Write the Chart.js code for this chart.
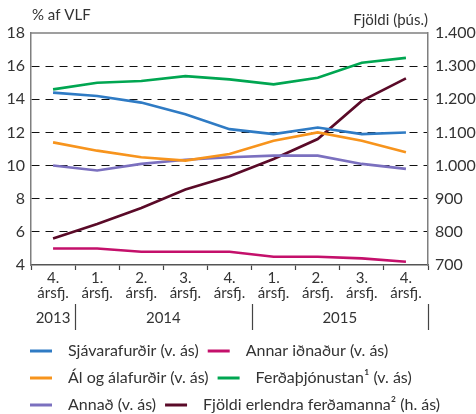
<!DOCTYPE html>
<html>
<head>
<meta charset="utf-8">
<script src="https://cdn.jsdelivr.net/npm/chart.js@4.4.1/dist/chart.umd.min.js"></script>
<style>
html,body{margin:0;padding:0;background:#fff;}
canvas{display:block;}
</style>
</head>
<body>
<canvas id="c" width="476" height="414"></canvas>
<script>
// ---- data ----
const quarterLabels = ["4.","1.","2.","3.","4.","1.","2.","3.","4."];
const quarterSuffix = "ársfj.";
const yearLabels = ["2013","2014","2015"];
const yearSpans = [1,4,4];
const leftTicks = [4,6,8,10,12,14,16,18];
const rightTicks = [700,800,900,1000,1100,1200,1300,1400];

const seriesNames = [
  "Sjávarafurðir (v. ás)",
  "Annar iðnaður (v. ás)",
  "Ál og álafurðir (v. ás)",
  "Ferðaþjónustan¹ (v. ás)",
  "Annað (v. ás)",
  "Fjöldi erlendra ferðamanna² (h. ás)"
];
const sjavarafurdir = [14.4,14.2,13.8,13.1,12.2,11.9,12.3,11.9,12.0];
const annarIdnadur  = [5.0,5.0,4.8,4.8,4.8,4.5,4.5,4.4,4.2];
const alOgAlafurdir = [11.4,10.9,10.5,10.3,10.7,11.5,12.0,11.5,10.8];
const ferdathjonusta= [14.6,15.0,15.1,15.4,15.2,14.9,15.3,16.2,16.5];
const annad         = [10.0,9.7,10.1,10.35,10.5,10.6,10.6,10.1,9.8];
const fjoldi        = [780,824,872,928,968,1020,1080,1195,1263];

const colors = ["#2f7bc4","#c4106b","#f7941d","#00a651","#7b70bf","#5a0a28"];
const seriesData = [sjavarafurdir,annarIdnadur,alOgAlafurdir,ferdathjonusta,annad,fjoldi];
const seriesAxis = ["y","y","y","y","y","y2"];

const FONT = "Lato, 'Noto Sans', sans-serif";
const TXT = "#333";
const FRAME = "#7f7f7f";

const categories = quarterLabels.map(q => [q, quarterSuffix]);

const datasets = seriesData.map((d,i) => ({
  label: seriesNames[i],
  data: d,
  yAxisID: seriesAxis[i],
  borderColor: colors[i],
  backgroundColor: colors[i],
  borderWidth: 2.6,
  pointRadius: 0,
  tension: 0,
  fill: false
}));

const fmt = v => v >= 1000 ? Math.floor(v/1000) + "." + String(v%1000).padStart(3,"0") : String(v);

const decor = {
  id: "decor",
  afterDraw(chart) {
    const ctx = chart.ctx;
    const a = chart.chartArea;
    const xs = chart.scales.x;
    ctx.save();
    // top frame
    ctx.strokeStyle = FRAME; ctx.lineWidth = 1.5;
    ctx.beginPath(); ctx.moveTo(a.left, a.top); ctx.lineTo(a.right, a.top); ctx.stroke();
    // axis titles
    ctx.fillStyle = TXT;
    ctx.font = "15px " + FONT;
    ctx.textBaseline = "middle";
    ctx.textAlign = "left";
    ctx.fillText("% af VLF", a.left + 1, 15);
    ctx.textAlign = "right";
    ctx.fillText("Fjöldi (þús.)", a.right, 20);
    // year row
    const half = (xs.getPixelForValue(1) - xs.getPixelForValue(0)) / 2;
    let idx = 0;
    ctx.strokeStyle = "#444"; ctx.lineWidth = 1.2;
    ctx.textAlign = "center";
    yearLabels.forEach((lab, g) => {
      const first = idx, last = idx + yearSpans[g] - 1;
      const x0 = xs.getPixelForValue(first) - half;
      const x1 = xs.getPixelForValue(last) + half;
      ctx.fillText(lab, (x0 + x1) / 2, 318);
      ctx.beginPath(); ctx.moveTo(Math.round(x1)+0.5, 304); ctx.lineTo(Math.round(x1)+0.5, 330); ctx.stroke();
      idx += yearSpans[g];
    });
    // legend
    const rows = [[0,1],[2,3],[4,5]];
    const rowY = [351, 378, 405];
    ctx.font = "16px " + FONT;
    ctx.textAlign = "left";
    rows.forEach((r, ri) => {
      let x = 30;
      r.forEach(si => {
        ctx.strokeStyle = colors[si]; ctx.lineWidth = 3;
        ctx.beginPath(); ctx.moveTo(x, rowY[ri]); ctx.lineTo(x + 22, rowY[ri]); ctx.stroke();
        x += 22 + 16;
        ctx.fillStyle = TXT;
        ctx.fillText(seriesNames[si], x, rowY[ri]);
        x += ctx.measureText(seriesNames[si]).width + 9;
      });
    });
    ctx.restore();
  }
};

new Chart(document.getElementById("c"), {
  type: "line",
  data: { labels: categories, datasets },
  options: {
    responsive: false,
    animation: false,
    devicePixelRatio: 1,
    layout: { padding: { top: 33, left: 0, right: 0, bottom: 0 } },
    plugins: { legend: { display: false }, tooltip: { enabled: false } },
    scales: {
      x: {
        offset: true,
        grid: { offset: true, drawOnChartArea: false, drawTicks: true, tickLength: 5, tickColor: "#444", tickWidth: 1.2 },
        border: { display: true, color: "#555", width: 1.5 },
        ticks: { color: TXT, font: { family: FONT, size: 15, lineHeight: 0.97 }, padding: 1, maxRotation: 0, autoSkip: false },
        afterFit(s) { s.height = 149; }
      },
      y: {
        position: "left",
        min: 4, max: 18,
        afterBuildTicks(s) { s.ticks = leftTicks.map(v => ({ value: v })); },
        grid: {
          drawTicks: false,
          color: c => (c.tick && (c.tick.value === 4 || c.tick.value === 18)) ? "rgba(0,0,0,0)" : "#111",
          lineWidth: 1
        },
        border: { display: true, color: FRAME, width: 1.5, dash: [8, 6] },
        ticks: { color: TXT, font: { family: FONT, size: 16 }, padding: 6 },
        afterFit(s) { s.width = 31; }
      },
      y2: {
        position: "right",
        min: 700, max: 1400,
        afterBuildTicks(s) { s.ticks = rightTicks.map(v => ({ value: v })); },
        grid: { display: false, drawOnChartArea: false, drawTicks: false },
        border: { display: true, color: FRAME, width: 1.5 },
        ticks: { color: TXT, font: { family: FONT, size: 16 }, padding: 7, callback: v => fmt(v) },
        afterFit(s) { s.width = 48; }
      }
    }
  },
  plugins: [decor]
});
</script>
</body>
</html>
